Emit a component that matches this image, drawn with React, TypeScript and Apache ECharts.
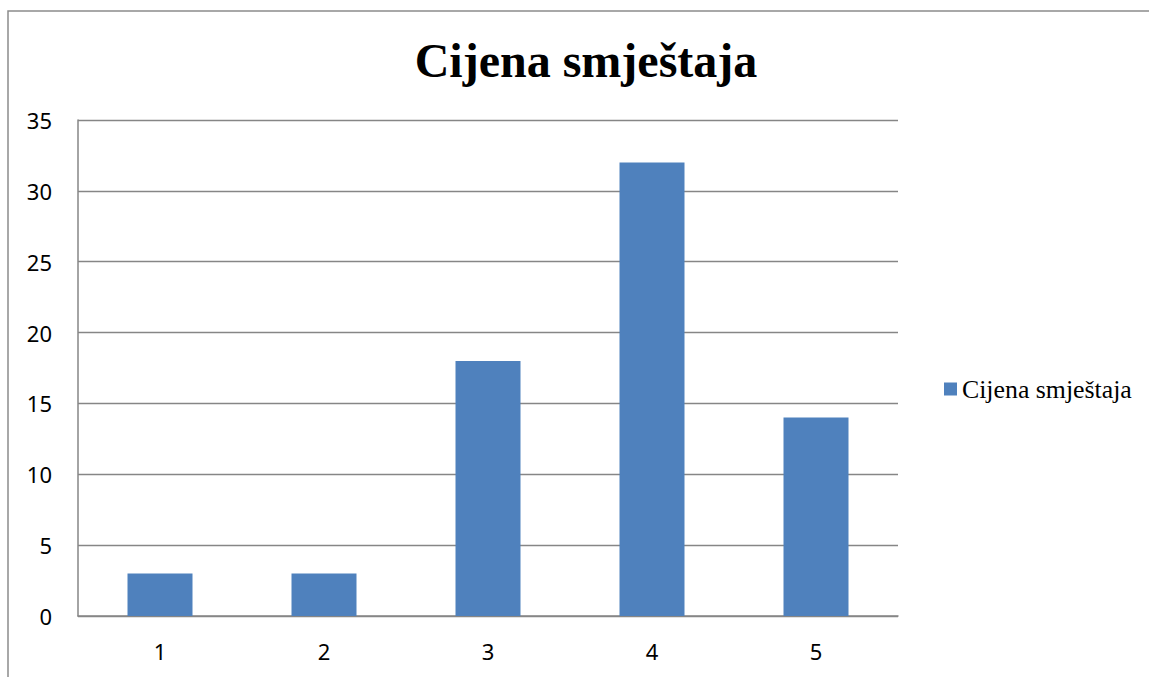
import React, { useEffect, useRef } from "react";
import * as echarts from "echarts";

const categories = ["1", "2", "3", "4", "5"];
const values = [3, 3, 18, 32, 14];
const seriesName = "Cijena smještaja";
const titleText = "Cijena smještaja";

export default function App() {
  const ref = useRef<HTMLDivElement>(null);
  useEffect(() => {
    if (!ref.current) return;
    const chart = echarts.init(ref.current, undefined, { renderer: "svg" });
    const axisFont = { fontFamily: "Noto Sans", fontSize: 22, color: "#000" };
    chart.setOption({
      animation: false,
      backgroundColor: "#fff",
      title: {
        text: titleText,
        left: 581,
        top: 29,
        textAlign: "center",
        textStyle: {
          fontFamily: "Liberation Serif",
          fontWeight: "bold",
          fontSize: 48,
          color: "#000",
          lineHeight: 52,
        },
      },
      legend: {
        left: 939,
        top: 371,
        icon: "rect",
        itemWidth: 13,
        itemHeight: 13,
        itemGap: 5,
        data: [seriesName],
        textStyle: {
          fontFamily: "Liberation Serif",
          fontSize: 25.8,
          color: "#000",
          lineHeight: 26,
          padding: [0, 0, 0, 0],
        },
      },
      graphic: [
        {
          type: "rect",
          shape: { x: 8, y: 11, width: 1300, height: 800 },
          style: { fill: "none", stroke: "#8c8c8c", lineWidth: 1.5 },
          silent: true,
        },
      ],
      grid: { left: 78, top: 120, width: 820, height: 496, containLabel: false },
      xAxis: {
        type: "category",
        data: categories,
        axisLine: { show: true, lineStyle: { color: "#868686", width: 1.5 } },
        axisTick: { show: false },
        axisLabel: { ...axisFont, margin: 24 },
        splitLine: { show: false },
      },
      yAxis: {
        type: "value",
        min: 0,
        max: 35,
        interval: 5,
        axisLine: { show: true, lineStyle: { color: "#868686", width: 1.5 } },
        axisTick: { show: false },
        axisLabel: { ...axisFont, margin: 26 },
        splitLine: { show: true, lineStyle: { color: "#868686", width: 1.3 } },
      },
      series: [
        {
          name: seriesName,
          type: "bar",
          data: values,
          barWidth: 65,
          itemStyle: { color: "#4F81BD" },
        },
      ],
    });
    return () => chart.dispose();
  }, []);
  return (
    <div
      ref={ref}
      style={{ position: "fixed", left: 0, top: 0, width: 1149, height: 677 }}
    />
  );
}
